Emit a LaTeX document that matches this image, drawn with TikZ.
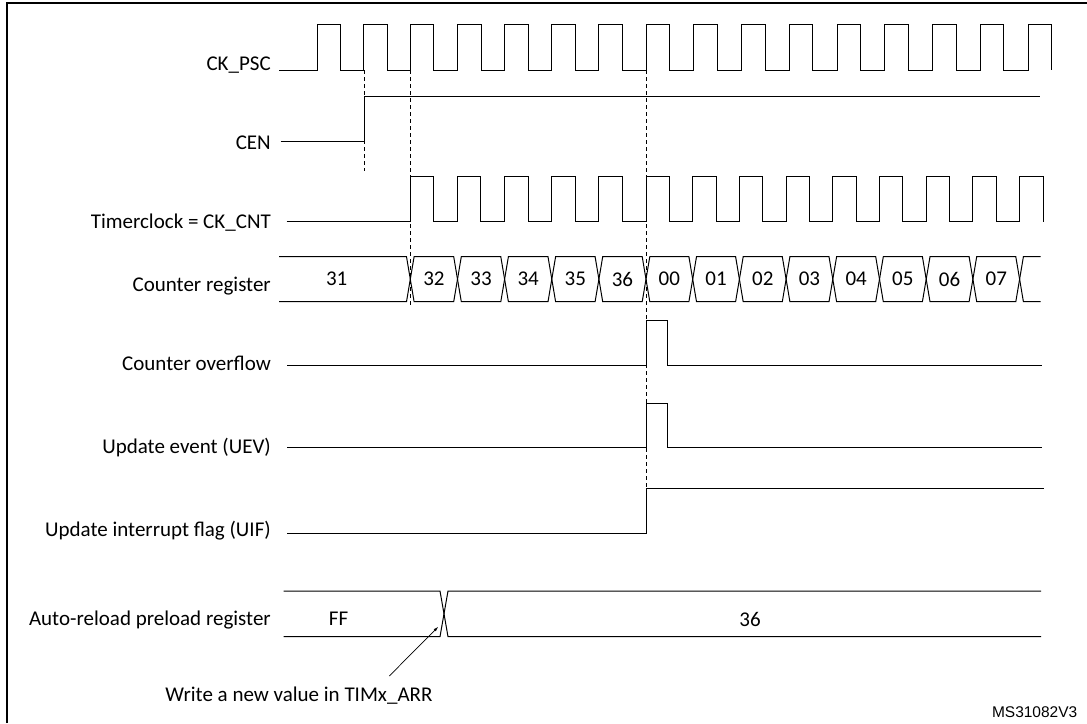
\documentclass[tikz,border=0pt]{standalone}
\usepackage{fontspec}
\setmainfont{Carlito}
\newfontfamily\arialfont{Liberation Sans}
\usetikzlibrary{arrows.meta}

\begin{document}
\begin{tikzpicture}[
    x=1pt, y=-1pt,
    every node/.style={font=\fontsize{21}{24}\selectfont, inner sep=0pt},
    % Stile per le linee dei segnali
    sig/.style={line width=1pt, line join=miter},
    % Stile per le etichette dei segnali
    lbl/.style={anchor=base east},
    % Stile per i valori nei registri
    val/.style={anchor=center},
    % Stile per le linee tratteggiate di riferimento
    guide/.style={line width=0.9pt, dash pattern=on 4pt off 3pt}
]
\useasboundingbox (0,0) rectangle (1087,723);

% --- CORNICE ---
\draw[line width=2pt] (7,723) -- (7,2.7) -- (1087,2.7);

% --- ETICHETTE DEI SEGNALI ---
\node[lbl] (lpsc) at (271,70.7)  {CK\_PSC};
\node[lbl] (lcen) at (271,149)   {CEN};
\node[lbl] (lcnt) at (271,228.3) {Timerclock = CK\_CNT};
\node[lbl] (lreg) at (271,291.7) {Counter register};
\node[lbl] (lovf) at (271,370)   {Counter overflow};
\node[lbl] (luev) at (271,453.3) {Update event (UEV)};
\node[lbl] (luif) at (271,536.7) {Update interrupt flag (UIF)};
\node[lbl] (larr) at (271,625)   {Auto-reload preload register};

% --- 1. CK_PSC ---
\draw[sig] (279.3,70)
    foreach \x in {317,363.5,410.3,457.5,504.6,551.8,598.9,646,693.8,741.5,789.3,837,884.8,932.5,980.3,1028}
    { -- (\x,70) -- (\x,24.3) -- (\x+23.5,24.3) -- (\x+23.5,70) };

% --- 2. CEN ---
\draw[sig] (280.7,141.7) -- (364,141.7) -- (364,96) -- (1039.5,96);

% --- 3. CK_CNT ---
\draw[sig] (286.7,221.7)
    foreach \x in {410.3,457.5,504.6,551.8,598.9,646,692.7,739.4,786.1,832.8,879.5,926.2,972.9,1019.6}
    { -- (\x,221.7) -- (\x,176.7) -- (\x+23.4,176.7) -- (\x+23.4,221.7) };

% --- 4. Counter register ---
\draw[sig] (279,256.7) -- (406.5,256.7) -- (410.3,279.2) -- (406.5,301.7) -- (279,301.7);
\node[val] (c31) at (336.7,279) {31};
\foreach \a/\b/\v [count=\i] in {410.3/457.5/32, 457.5/504.6/33, 504.6/551.8/34,
    551.8/598.9/35, 598.9/646/36, 646/692.7/00, 692.7/739.4/01, 739.4/786.1/02,
    786.1/832.8/03, 832.8/879.5/04, 879.5/926.2/05, 926.2/972.9/06, 972.9/1019.6/07} {
    \draw[sig] (\a,279.2) -- (\a+3.8,256.7) -- (\b-3.8,256.7) -- (\b,279.2)
        -- (\b-3.8,301.7) -- (\a+3.8,301.7) -- cycle;
    \node[val] (c\i) at ({(\a+\b)/2},279) {\v};
}
\draw[sig] (1040.5,256.7) -- (1023.4,256.7) -- (1019.6,279.2) -- (1023.4,301.7) -- (1040.5,301.7);

% --- 5. Counter overflow e UEV ---
\draw[sig] (287,365.7) -- (646,365.7) -- (646,320) -- (667.7,320) -- (667.7,365.7) -- (1042.3,365.7);
\draw[sig] (287,447.7) -- (646,447.7) -- (646,403) -- (667.7,403) -- (667.7,447.7) -- (1042.3,447.7);

% --- 6. UIF ---
\draw[sig] (287,533.3) -- (646,533.3) -- (646,488.3) -- (1044.3,488.3);

% --- 7. Auto-reload preload register ---
\draw[sig] (283.5,591) -- (440,591) -- (444,613.8) -- (440,636.7) -- (283.5,636.7);
\draw[sig] (1041,591) -- (448,591) -- (444,613.8) -- (448,636.7) -- (1041,636.7);
\node[val] (aff) at (338.6,619) {FF};
\node[val] (a36) at (750,619)   {36};

% --- LINEE DI RIFERIMENTO ---
\draw[guide] (364,70) -- (364,170.7);
\draw[guide] (410.3,70) -- (410.3,306.7);
\draw[guide] (646,70) -- (646,488.3);

% --- NOTA ---
\node[anchor=base] (nota) at (299,701.7) {Write a new value in TIMx\_ARR};
\coordinate (wrtail) at (389.3,676);
\coordinate (wrhead) at (438.3,626.7);
\draw[line width=0.7pt, -{Latex[length=5pt,width=3pt]}] (wrtail) -- (wrhead);

\node[anchor=base east, font=\arialfont\fontsize{15.5}{18}\selectfont] (ms) at (1077.5,717.3) {MS31082V3};

\end{tikzpicture}
\end{document}
